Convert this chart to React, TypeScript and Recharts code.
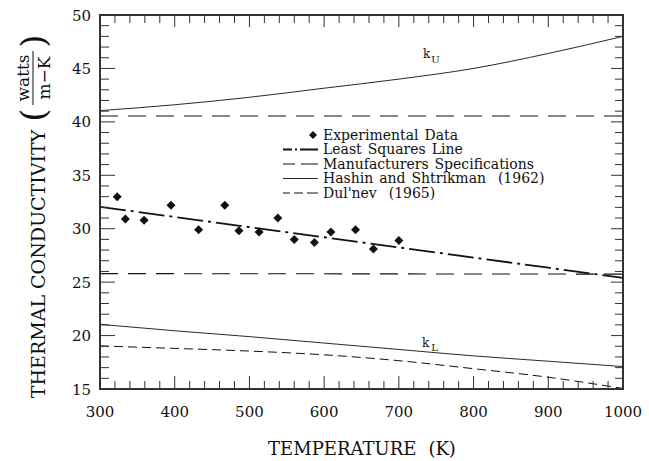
import React from 'react';
import {
    ComposedChart,
    Line,
    Scatter,
    XAxis,
    YAxis,
    ReferenceArea,
} from 'recharts';

const FONT = '"DejaVu Serif", serif';
const INK = '#111';
const FRAME = '#333';

// chart box: plot area spans x 100..623, y 15..389
const CHART_W = 649;
const CHART_H = 461;
const LEFT = 100;
const TOP = 15;
const PLOT_W = 523;
const PLOT_H = 374;

// axis ticks
const xTicks = Array.from({ length: 36 }, (_, i) => 300 + i * 20);
const yTicks = Array.from({ length: 36 }, (_, i) => 15 + i);

const expTemp = [323, 334, 359, 395, 432, 467, 486, 513, 538, 560, 587, 609, 642, 666, 700];
const expK = [33.0, 30.9, 30.8, 32.2, 29.9, 32.2, 29.8, 29.7, 31.0, 29.0, 28.7, 29.7, 29.9, 28.1, 28.9];

// curves sampled every 100 K
const curveTemp = [300, 400, 500, 600, 700, 800, 900, 1000];
const leastSquaresK = [32.05, 31.1, 30.15, 29.2, 28.25, 27.3, 26.35, 25.4];
const upperBoundK = [41.05, 41.6, 42.3, 43.15, 44.0, 45.0, 46.4, 48.0];
const lowerBoundK = [21.05, 20.45, 19.9, 19.3, 18.7, 18.1, 17.6, 17.1];
const dulnevK = [19.03, 18.8, 18.55, 18.2, 17.65, 16.9, 16.1, 15.05];

// manufacturers specifications (two flat limits)
const specTemp = [300, 1000];
const specHighK = [40.55, 40.55];
const specLowK = [25.8, 25.75];

const legendLabels = [
    'Experimental Data',
    'Least Squares Line',
    'Manufacturers Specifications',
    'Hashin and Shtrikman  (1962)',
    "Dul'nev  (1965)",
];

const toPoints = (xs: number[], ys: number[]) => xs.map((t, i) => ({ t, k: ys[i] }));

// inward ticks; the top and right ones mirror the bottom and left ones
const BottomTick = (props: any) => {
    const x = Number(props.x);
    const y = Number(props.y);
    const v = props.payload.value;
    const major = v % 100 === 0;
    return (
        <g>
            <rect x={x - 0.5} y={y - (major ? 13 : 8)} width={1} height={major ? 13 : 8} fill={FRAME} />
            <rect x={x - 0.5} y={y - PLOT_H} width={1} height={major ? 12 : 8} fill={FRAME} />
            {major && (
                <text x={x} y={y + 28} textAnchor="middle" fontSize={15} fontFamily={FONT} fill={INK}>
                    {v}
                </text>
            )}
        </g>
    );
};

const LeftTick = (props: any) => {
    const x = Number(props.x);
    const y = Number(props.y);
    const v = props.payload.value;
    const major = v % 5 === 0;
    return (
        <g>
            <rect x={x} y={y - 0.5} width={major ? 15 : 9} height={1} fill={FRAME} />
            <rect x={x + PLOT_W - (major ? 12 : 8)} y={y - 0.5} width={major ? 12 : 8} height={1} fill={FRAME} />
            {major && (
                <text x={x - 9} y={y + 5.5} textAnchor="end" fontSize={15} fontFamily={FONT} fill={INK}>
                    {v}
                </text>
            )}
        </g>
    );
};

const Diamond = (props: any) => {
    const { cx, cy } = props;
    const r = 4.5;
    return <polygon points={`${cx},${cy - r} ${cx + r},${cy} ${cx},${cy + r} ${cx - r},${cy}`} fill={INK} />;
};

// titles, curve tags and legend drawn over the chart
const Overlay = () => {
    const rowY = (i: number) => 135 + i * 14.5;
    const seg = (i: number, dash?: string, w = 1) => (
        <line x1={283} x2={318} y1={rowY(i)} y2={rowY(i)} stroke={INK} strokeWidth={w} strokeDasharray={dash} />
    );
    return (
        <svg
            width={CHART_W}
            height={CHART_H}
            style={{ position: 'absolute', left: 0, top: 0, pointerEvents: 'none' }}
            fontFamily={FONT}
            fill={INK}
        >
            <text x={362} y={455} textAnchor="middle" fontSize={18}>
                TEMPERATURE<tspan dx={12}>(K)</tspan>
            </text>
            <text transform="translate(45,264) rotate(-90)" textAnchor="middle" fontSize={19}>
                THERMAL CONDUCTIVITY
            </text>
            <g transform="translate(35,78) rotate(-90)">
                <text x={-37} y={10} textAnchor="middle" fontSize={34}>(</text>
                <text x={37} y={10} textAnchor="middle" fontSize={34}>)</text>
                <text x={0} y={-6} textAnchor="middle" fontSize={17}>watts</text>
                <rect x={-27} y={-2.5} width={54} height={1} fill={INK} />
                <text x={0} y={15} textAnchor="middle" fontSize={17}>m−K</text>
            </g>
            <text x={423} y={58} fontSize={12}>
                k<tspan fontSize={10} dx={1} dy={5}>U</tspan>
            </text>
            <text x={422} y={347} fontSize={12}>
                k<tspan fontSize={10} dx={2} dy={4}>L</tspan>
            </text>
            <polygon points={`313,${rowY(0) - 4} 317,${rowY(0)} 313,${rowY(0) + 4} 309,${rowY(0)}`} fill={INK} />
            {seg(1, '9 3 2 3 18', 1.8)}
            {seg(2, '12 6 17', 1)}
            {seg(3, undefined, 0.9)}
            {seg(4, '7 4 9 4 11', 1)}
            {legendLabels.map((label, i) => (
                <text key={label} x={323} y={rowY(i) + 4.5} fontSize={14} wordSpacing={1.5} style={{ whiteSpace: 'pre' }}>
                    {label}
                </text>
            ))}
        </svg>
    );
};

export default function App() {
    return (
        <div style={{ position: 'absolute', left: 0, top: 0, width: CHART_W, height: CHART_H, background: '#fff' }}>
            <ComposedChart width={CHART_W} height={CHART_H} margin={{ top: TOP, right: CHART_W - LEFT - PLOT_W, bottom: 0, left: 0 }}>
                <XAxis
                    dataKey="t"
                    type="number"
                    domain={[300, 1000]}
                    ticks={xTicks}
                    interval={0}
                    height={CHART_H - TOP - PLOT_H}
                    tickSize={0}
                    tickMargin={0}
                    tickLine={false}
                    tick={<BottomTick />}
                    axisLine={{ stroke: FRAME, strokeWidth: 2 }}
                    allowDataOverflow
                />
                <YAxis
                    type="number"
                    domain={[15, 50]}
                    ticks={yTicks}
                    interval={0}
                    width={LEFT}
                    tickSize={0}
                    tickMargin={0}
                    tickLine={false}
                    tick={<LeftTick />}
                    axisLine={{ stroke: FRAME, strokeWidth: 2 }}
                    allowDataOverflow
                />
                <ReferenceArea x1={300} x2={1000} y1={15} y2={50} fill="none" stroke={FRAME} strokeWidth={2} ifOverflow="visible" />
                <Line data={toPoints(specTemp, specHighK)} dataKey="k" stroke={INK} strokeWidth={1.1} strokeDasharray="18 10" dot={false} isAnimationActive={false} />
                <Line data={toPoints(specTemp, specLowK)} dataKey="k" stroke={INK} strokeWidth={1.1} strokeDasharray="18 10" dot={false} isAnimationActive={false} />
                <Line data={toPoints(curveTemp, upperBoundK)} dataKey="k" type="monotone" stroke={INK} strokeWidth={0.9} dot={false} isAnimationActive={false} />
                <Line data={toPoints(curveTemp, lowerBoundK)} dataKey="k" type="monotone" stroke={INK} strokeWidth={0.9} dot={false} isAnimationActive={false} />
                <Line data={toPoints(curveTemp, dulnevK)} dataKey="k" type="monotone" stroke={INK} strokeWidth={1} strokeDasharray="9 5" dot={false} isAnimationActive={false} />
                <Line data={toPoints(curveTemp, leastSquaresK)} dataKey="k" stroke={INK} strokeWidth={1.8} strokeDasharray="26 5 3 5" dot={false} isAnimationActive={false} />
                <Scatter data={toPoints(expTemp, expK)} dataKey="k" shape={<Diamond />} isAnimationActive={false} />
            </ComposedChart>
            <Overlay />
        </div>
    );
}
